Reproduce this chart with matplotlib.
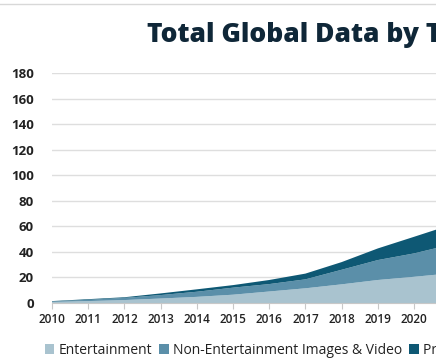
import matplotlib.pyplot as plt
from matplotlib.lines import Line2D

# Data (zettabytes), stacked layers
years = [2010, 2011, 2012, 2013, 2014, 2015, 2016, 2017, 2018, 2019, 2020, 2021]
entertainment = [0.8, 1.5, 2.3, 3.5, 4.8, 6.5, 9.0, 11.5, 14.6, 18.0, 20.5, 23.2]
non_ent_images_video = [0.4, 1.0, 1.7, 2.7, 4.0, 5.5, 5.8, 7.0, 11.4, 15.6, 18.3, 22.4]
productivity = [0.3, 0.5, 0.5, 1.3, 1.9, 2.0, 3.2, 4.5, 6.0, 9.1, 13.0, 15.4]

series_names = ["Entertainment", "Non-Entertainment Images & Video", "Productivity Data"]
colors = ["#a9c3cf", "#5b8fa9", "#0e5874"]
y_ticks = [0, 20, 40, 60, 80, 100, 120, 140, 160, 180]
x_ticks = list(range(2010, 2021))

plt.rcParams['font.family'] = ['Open Sans', 'DejaVu Sans']

fig = plt.figure(figsize=(4.36, 3.6), dpi=100)
# axes run past the right edge, the reference is a cropped view
ax = fig.add_axes([52 / 436, 57 / 360, 543 / 436, 230 / 360])

ax.stackplot(years, entertainment, non_ent_images_video, productivity,
             colors=colors, labels=series_names, linewidth=0)

ax.set_xlim(2010, 2025)
ax.set_ylim(0, 180)
ax.set_yticks(y_ticks)
ax.set_xticks(x_ticks)
ax.set_yticklabels([str(v) for v in y_ticks], fontsize=9.5, fontweight='bold', color='#222222')
ax.set_xticklabels([str(v) for v in x_ticks], fontsize=8.5, fontweight='semibold', color='#222222')
ax.tick_params(axis='y', length=0, pad=13)
ax.tick_params(axis='x', length=4, color='#c8c8c8', pad=3)

ax.grid(axis='y', color='#dedede', linewidth=1)
ax.set_axisbelow(True)
for side in ['top', 'right', 'left']:
    ax.spines[side].set_visible(False)
ax.spines['bottom'].set_color('#c8c8c8')

fig.text(147 / 436, 1 - 42 / 360, "Total Global Data by Type", fontsize=19,
         fontweight='heavy', color='#0f2738', ha='left', va='baseline')

handles, labels = ax.get_legend_handles_labels()
fig.legend(handles, labels, loc='center left', bbox_to_anchor=(32 / 436, 1 - 350 / 360),
           ncol=3, frameon=False, fontsize=10, handlelength=0.7, handleheight=0.7,
           handletextpad=0.3, columnspacing=0.5, labelcolor='#222222')

# thin frame line at the top of the crop
fig.add_artist(Line2D([0, 1], [1 - 4 / 360, 1 - 4 / 360], color='#d8d8d8', linewidth=1))

fig.savefig("out.png", dpi=100)
